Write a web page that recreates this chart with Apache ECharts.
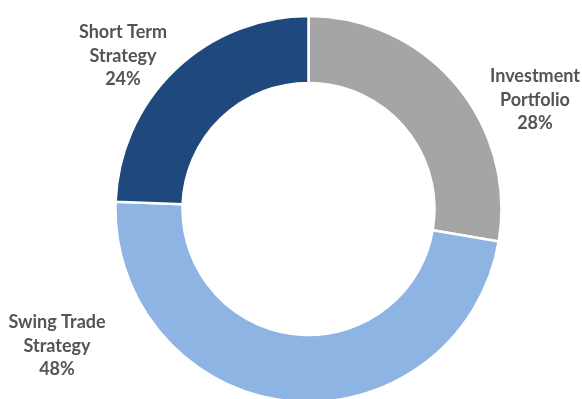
<!DOCTYPE html>
<html><head><meta charset="utf-8">
<script src="https://cdn.jsdelivr.net/npm/echarts@6/dist/echarts.min.js"></script>
<style>html,body{margin:0;padding:0;background:#fff}#c{width:582px;height:399px}</style>
</head><body><div id="c"></div>
<script>
// Data
const categories = ['Investment\nPortfolio', 'Swing Trade\nStrategy', 'Short Term\nStrategy'];
const values = [27.7, 47.9, 24.4];

// Styles / layout (kept apart from data)
const sliceColors = ['#A5A5A5', '#8EB4E3', '#1F497D'];
const labelAnchors = [[535, 100], [57, 346], [123, 56]];

const chart = echarts.init(document.getElementById('c'), null, {renderer: 'canvas'});
chart.setOption({
  animation: false,
  backgroundColor: '#ffffff',
  series: [{
    type: 'pie',
    center: [308.5, 209],
    radius: [126, 193],
    startAngle: 90,
    clockwise: true,
    percentPrecision: 0,
    avoidLabelOverlap: false,
    itemStyle: {borderColor: '#ffffff', borderWidth: 2.5},
    label: {
      show: true,
      position: 'outside',
      formatter: '{b}\n{d}%',
      color: '#545454',
      fontFamily: 'Lato',
      fontWeight: 'bold',
      fontSize: 18,
      lineHeight: 23.5,
      align: 'center'
    },
    labelLine: {show: false},
    labelLayout: function (p) {
      const a = labelAnchors[p.dataIndex];
      return {x: a[0], y: a[1], align: 'center', verticalAlign: 'middle'};
    },
    emphasis: {disabled: true},
    data: categories.map((n, i) => ({name: n, value: values[i], itemStyle: {color: sliceColors[i]}}))
  }]
});
</script></body></html>
